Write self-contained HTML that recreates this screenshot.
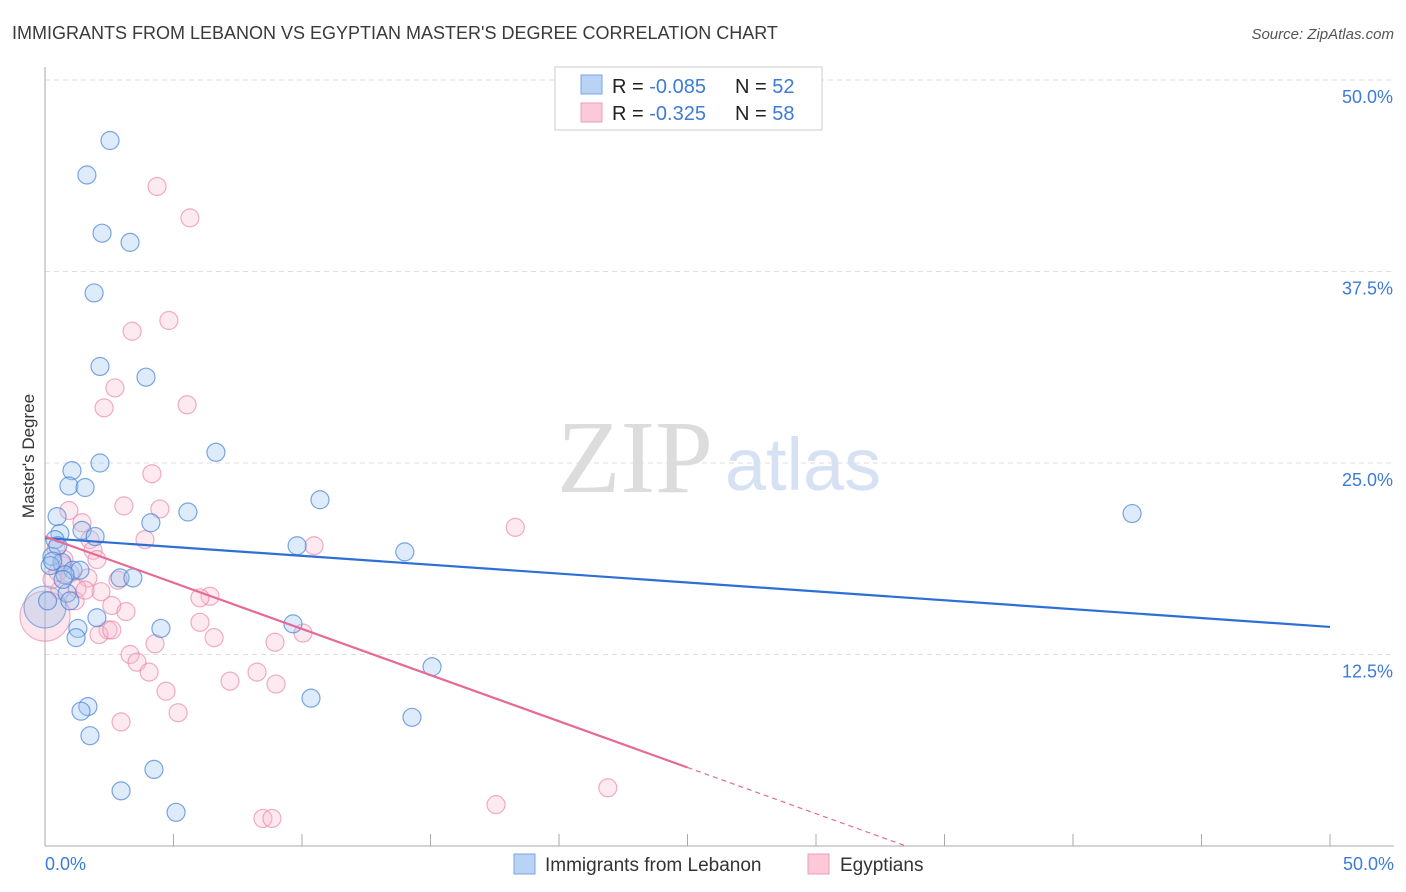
<!DOCTYPE html>
<html><head><meta charset="utf-8">
<style>
body{margin:0;background:#fff;font-family:"Liberation Sans",sans-serif;}
svg{display:block}
</style></head>
<body>
<svg id="chart" width="1406" height="892" viewBox="0 0 1406 892">
<text x="12" y="39" font-size="18" fill="#3a3a3a">IMMIGRANTS FROM LEBANON VS EGYPTIAN MASTER'S DEGREE CORRELATION CHART</text>
<text x="1394" y="39" font-size="15" fill="#555" font-style="italic" text-anchor="end">Source: ZipAtlas.com</text>
<g id="grid"></g>
<text x="635" y="492" font-size="104" fill="#dcdcdc" font-family="Liberation Serif,serif" text-anchor="middle">ZIP</text>
<text x="803" y="490" font-size="74" fill="#d6e2f3" text-anchor="middle">atlas</text>
<g id="points"></g>
<g id="lines"></g>
<text x="34" y="456" font-size="17" fill="#333" text-anchor="middle" transform="rotate(-90 34 456)">Master's Degree</text>
<g>
<rect x="555" y="67" width="267" height="63" fill="#fff" stroke="#ccc"/>
<rect x="581" y="75" width="21" height="19" fill="#b9d3f5" stroke="#7aa6e3"/>
<rect x="581" y="103" width="21" height="19" fill="#fbc9d8" stroke="#eb9db7"/>
<text x="612" y="93" font-size="20" fill="#222">R = <tspan fill="#3d7bd9">-0.085</tspan></text>
<text x="735" y="93" font-size="20" fill="#222">N = <tspan fill="#3d7bd9">52</tspan></text>
<text x="612" y="120" font-size="20" fill="#222">R = <tspan fill="#3d7bd9"> -0.325</tspan></text>
<text x="735" y="120" font-size="20" fill="#222">N = <tspan fill="#3d7bd9">58</tspan></text>
</g>
<g>
<rect x="514" y="854" width="21" height="20" fill="#b9d3f5" stroke="#7aa6e3"/>
<text x="545" y="871" font-size="19" fill="#333">Immigrants from Lebanon</text>
<rect x="808" y="854" width="21" height="20" fill="#fbc9d8" stroke="#eb9db7"/>
<text x="840" y="871" font-size="19" fill="#333">Egyptians</text>
</g>
</svg>
<script>
const yTicks=[12.5,25,37.5,50];
const yTickLabels=["12.5%","25.0%","37.5%","50.0%"];
const xTickLabels=["0.0%","50.0%"];
const blueX=[2.53,1.63,2.22,3.31,1.91,2.14,3.93,6.65,2.14,1.05,0.93,1.56,10.7,5.56,42.3,4.12,0.47,0.58,1.44,1.95,9.81,14.0,0.39,0.27,0.66,1.09,1.36,2.92,3.42,0.86,0.97,2.02,1.28,4.51,9.65,1.21,15.06,10.35,1.67,1.40,1.75,14.28,4.24,2.96,5.1,0.5,0.2,0.78,0.7,0.1,0.3];
const blueY=[46.05,43.8,40.0,39.4,36.1,31.3,30.6,25.7,25.0,24.5,23.5,23.4,22.6,21.8,21.7,21.1,21.5,20.4,20.6,20.2,19.6,19.2,20.0,18.9,18.5,18.0,18.0,17.5,17.5,16.5,16.0,14.9,14.2,14.2,14.5,13.6,11.7,9.65,9.1,8.8,7.2,8.4,5.0,3.6,2.2,19.6,18.3,17.7,17.4,16.0,18.6];
const pinkX=[4.36,5.64,4.82,3.39,2.72,5.53,2.3,4.16,3.07,4.47,18.3,0.93,1.44,3.89,1.75,10.47,0.43,1.87,2.02,0.7,0.97,1.67,2.84,1.25,2.18,6.42,6.03,2.6,3.15,6.03,10.04,2.45,2.1,2.6,6.58,8.95,4.28,3.31,3.58,4.05,4.71,8.25,7.2,8.99,5.18,2.96,21.9,17.55,8.48,8.83,0.5,0.74,1.17,1.56,0.58,0.27];
const pinkY=[43.05,41.0,34.3,33.6,29.9,28.8,28.6,24.3,22.2,22.0,20.8,21.9,21.1,20.0,20.0,19.6,19.4,19.3,18.7,18.3,17.8,17.5,17.35,16.8,16.6,16.3,16.2,15.7,15.3,14.6,13.9,14.1,13.8,14.1,13.6,13.3,13.2,12.5,12.0,11.35,10.1,11.35,10.76,10.57,8.7,8.1,3.8,2.7,1.8,1.8,17.9,18.7,16.0,16.7,16.7,17.4];
const bigBlue=[0.0,15.6];
const bigPink=[0.0,15.0];
const blueTrend=[20.1,14.3];
const pinkTrend=[20.2,-0.603];
const NS="http://www.w3.org/2000/svg";
const X0=45,X1=1330,Y0=846,Y50=80;
function sx(v){return X0+(X1-X0)*v/50;}
function sy(v){return Y0-(Y0-Y50)*v/50;}
function mk(t,a,p){const e=document.createElementNS(NS,t);for(const k in a)e.setAttribute(k,a[k]);p.appendChild(e);return e;}
const grid=document.getElementById('grid');
yTicks.forEach((v,i)=>{
 const l=mk('line',{x1:X0,x2:1394,y1:sy(v),y2:sy(v),stroke:'#ddd','stroke-dasharray':'5,4'},grid);
 
 
 const t=mk('text',{x:1393,y:sy(v)+23,'font-size':18,fill:'#3d7bd9','text-anchor':'end'},grid);
 t.textContent=yTickLabels[i];
 
 
});
const ya=mk('line',{x1:X0,x2:X0,y1:67,y2:846,stroke:'#aaa'},grid);


const xa=mk('line',{x1:X0,x2:1394,y1:846,y2:846,stroke:'#aaa'},grid);


for(let i=0;i<=10;i++){
 const tk=mk('line',{x1:sx(i*5),x2:sx(i*5),y1:834,y2:846,stroke:'#aaa'},grid);
 
 
}
[[0,'start',45],[50,'end',1394]].forEach((d,i)=>{
 const t=mk('text',{x:d[2],y:870,'font-size':18,fill:'#3d7bd9','text-anchor':d[1]},grid);
 t.textContent=xTickLabels[i];
 
 
});
const pts=document.getElementById('points');
function dot(x,y,r,fill,stroke,name){
 const c=mk('circle',{cx:sx(x),cy:sy(y),r:r,fill:fill,stroke:stroke,'stroke-width':1.2},pts);
 
 
}
dot(bigPink[0],bigPink[1],25,'rgba(245,170,195,0.3)','rgba(232,130,165,0.6)','egyptians-point-large');
dot(bigBlue[0],bigBlue[1],21,'rgba(150,190,240,0.3)','rgba(80,135,215,0.6)','lebanon-point-large');
pinkX.forEach((x,i)=>dot(x,pinkY[i],9,'rgba(248,185,205,0.3)','rgba(232,130,165,0.65)','egyptians-point'));
blueX.forEach((x,i)=>dot(x,blueY[i],9,'rgba(160,198,242,0.35)','rgba(70,130,215,0.7)','lebanon-point'));
const ln=document.getElementById('lines');
const bl=mk('line',{x1:sx(0),y1:sy(blueTrend[0]),x2:sx(50),y2:sy(blueTrend[1]),stroke:'#2d6fd6','stroke-width':2.2},ln);


const pf=x=>pinkTrend[0]+pinkTrend[1]*x;
const xEnd=-pinkTrend[0]/pinkTrend[1];
const pl=mk('line',{x1:sx(0),y1:sy(pf(0)),x2:sx(25),y2:sy(pf(25)),stroke:'#e66a96','stroke-width':2.2},ln);


const pd=mk('line',{x1:sx(25),y1:sy(pf(25)),x2:sx(xEnd),y2:sy(0),stroke:'#e66a96','stroke-width':1.2,'stroke-dasharray':'5,4'},ln);


</script>
</body></html>
